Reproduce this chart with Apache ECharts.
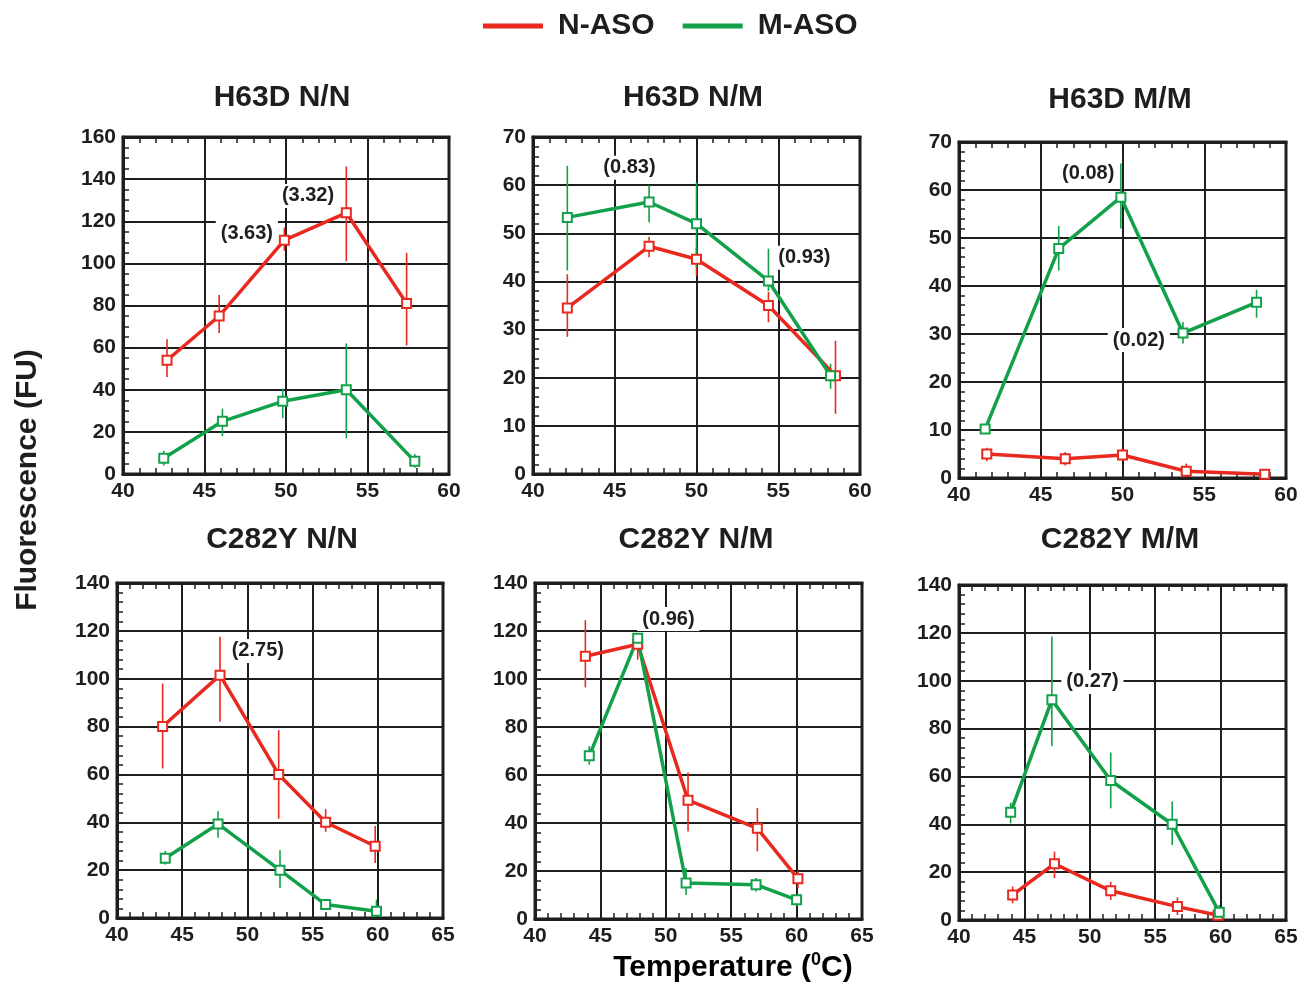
<!DOCTYPE html>
<html>
<head>
<meta charset="utf-8">
<title>Fluorescence vs temperature</title>
<script src="https://cdn.jsdelivr.net/npm/echarts@6.0.0/dist/echarts.min.js"></script>
<style>
  html, body { margin: 0; padding: 0; background: #fff; }
  #chart { width: 1307px; height: 987px; }
</style>
</head>
<body>
<div id="chart"></div>
<script>
// each row: [temperature, mean, error low, error high]
const h63dNN_N = [[42.7, 54, 46, 64], [45.9, 75, 67, 85], [49.9, 111, 106, 117], [53.7, 124, 101, 146], [57.4, 81, 61, 105]]
const h63dNN_M = [[42.5, 7.5, 4, 11], [46.1, 25, 18, 31], [49.8, 34.5, 26.5, 40.5], [53.7, 40, 17, 62], [57.9, 6, 3, 9.5]]
const h63dNM_N = [[42.1, 34.5, 28.5, 41.5], [47.1, 47.3, 45, 49.3], [50.0, 44.6, 41.2, 47.1], [54.4, 35, 31.5, 37.8], [58.5, 20.4, 12.5, 27.7]]
const h63dNM_M = [[42.1, 53.3, 42.3, 64], [47.1, 56.5, 52.3, 60], [50.0, 52, 43, 60.6], [54.4, 40.1, 38, 46.8], [58.2, 20.4, 17.7, 22.9]]
const h63dMM_N = [[41.7, 5, 3.5, 6.3], [46.5, 4, 2.6, 5.4], [50.0, 4.8, 3.7, 6.1], [53.9, 1.4, 0.2, 3], [58.7, 0.8, 0.1, 1.6]]
const h63dMM_M = [[41.6, 10.2, 9.4, 11], [46.1, 47.8, 43.2, 52.5], [49.9, 58.5, 52, 65.5], [53.7, 30.2, 28, 32.5], [58.2, 36.6, 33.4, 39.2]]
const c282yNN_N = [[43.5, 80, 62.5, 98], [47.9, 101.5, 82, 117.5], [52.4, 60, 41.5, 78.5], [56.0, 40, 36, 45.5], [59.8, 30, 23, 38.5]]
const c282yNN_M = [[43.7, 25, 22.3, 28], [47.75, 39.3, 33.5, 44.6], [52.5, 20, 12.5, 28.3], [56.0, 5.6, 3.5, 7.7], [59.9, 2.8, 0.7, 7.7]]
const c282yNM_N = [[43.85, 109.5, 96.5, 124.5], [47.85, 114.5, 108, 119], [51.7, 49.5, 36.5, 61], [57.0, 37.8, 28.2, 46.3], [60.1, 16.8, 12.9, 19.9]]
const c282yNM_M = [[44.15, 68, 64.3, 72], [47.85, 117, 113.6, 119], [51.55, 15, 10, 21.3], [56.9, 14.3, 11.5, 17.1], [60.0, 8, 5.3, 10.1]]
const c282yMM_N = [[44.1, 10.5, 7, 14], [47.3, 23.5, 17.5, 28.6], [51.6, 12.2, 8.4, 16], [56.7, 5.6, 2.1, 9.5], [59.8, 2, 0.8, 3.2]]
const c282yMM_M = [[43.95, 45, 40.4, 49], [47.1, 92, 72.7, 118.5], [51.6, 58.3, 46.7, 70], [56.3, 40, 31.3, 49.5], [59.9, 3.2, 1.1, 6.3]]

// p-value notes: [temperature, fluorescence, text]
const h63dNN_notes = [[47.6, 114.4, '(3.63)'], [51.35, 132, '(3.32)']]
const h63dNM_notes = [[45.9, 63.6, '(0.83)'], [56.6, 44.9, '(0.93)']]
const h63dMM_notes = [[47.9, 63.5, '(0.08)'], [51.0, 28.75, '(0.02)']]
const c282yNN_notes = [[50.8, 111.6, '(2.75)']]
const c282yNM_notes = [[50.2, 125, '(0.96)']]
const c282yMM_notes = [[50.2, 99.5, '(0.27)']]

const panelTitles = ['H63D N/N', 'H63D N/M', 'H63D M/M', 'C282Y N/N', 'C282Y N/M', 'C282Y M/M']
const xMaxes = [60, 60, 60, 65, 65, 65]
const yMaxes = [160, 70, 70, 140, 140, 140]
const ySteps = [20, 10, 10, 20, 20, 20]

const RED = '#e8291f'
const GREEN = '#12a14a'
const INK = '#1e1e1e'
const FONT = '"Liberation Sans", Arial, Helvetica, sans-serif'

const panels = [
  { n: h63dNN_N, m: h63dNN_M, notes: h63dNN_notes, box: [123, 137, 326, 337], title: [282, 98], minor: 4 },
  { n: h63dNM_N, m: h63dNM_M, notes: h63dNM_notes, box: [533, 137, 327, 337], title: [693, 98], minor: 5 },
  { n: h63dMM_N, m: h63dMM_M, notes: h63dMM_notes, box: [959, 142, 327, 336], title: [1120, 100], minor: 5 },
  { n: c282yNN_N, m: c282yNN_M, notes: c282yNN_notes, box: [117, 583, 326, 335], title: [282, 540], minor: 5 },
  { n: c282yNM_N, m: c282yNM_M, notes: c282yNM_notes, box: [535, 583, 327, 336], title: [696, 540], minor: 5 },
  { n: c282yMM_N, m: c282yMM_M, notes: c282yMM_notes, box: [959, 585, 327, 335], title: [1120, 540], minor: 5 },
]

const chart = echarts.init(document.getElementById('chart'))

const labelFont = { color: INK, fontSize: 21, fontWeight: 'bold', fontFamily: FONT }
const tickLine = { color: INK, width: 1.5 }

function errorBar(params, api) {
  const lo = api.coord([api.value(0), api.value(2)])
  const hi = api.coord([api.value(0), api.value(3)])
  return {
    type: 'line',
    shape: { x1: lo[0], y1: lo[1], x2: hi[0], y2: hi[1] },
    style: { stroke: api.visual('color'), lineWidth: 1.6 },
  }
}

const grid = []
const xAxis = []
const yAxis = []
const series = []
const graphic = []

panels.forEach((p, i) => {
  const [left, top, width, height] = p.box
  grid.push({ left, top, width, height, show: true, borderColor: INK, borderWidth: 3, outerBoundsMode: 'none' })

  const xCommon = { type: 'value', gridIndex: i, min: 40, max: xMaxes[i], interval: 5 }
  xAxis.push({
    ...xCommon,
    axisLine: { show: true, onZero: false, lineStyle: { color: INK, width: 3 } },
    axisTick: { show: true, inside: true, length: 6, lineStyle: tickLine },
    minorTick: { show: true, splitNumber: 5, length: 6, lineStyle: tickLine },
    splitLine: { show: true, lineStyle: { color: INK, width: 2 } },
    axisLabel: { ...labelFont, margin: 7 },
  })
  xAxis.push({
    ...xCommon,
    position: 'top',
    axisLine: { show: true, onZero: false, lineStyle: { color: INK, width: 3 } },
    axisTick: { show: true, inside: true, length: 6, lineStyle: tickLine },
    minorTick: { show: true, splitNumber: 5, length: 6, lineStyle: tickLine },
    splitLine: { show: false },
    axisLabel: { show: false },
  })
  yAxis.push({
    type: 'value', gridIndex: i, min: 0, max: yMaxes[i], interval: ySteps[i],
    axisLine: { show: true, onZero: false, lineStyle: { color: INK, width: 3 } },
    axisTick: { show: true, inside: true, length: 6, lineStyle: tickLine },
    minorTick: { show: true, splitNumber: p.minor, length: 6, lineStyle: tickLine },
    splitLine: { show: true, lineStyle: { color: INK, width: 2 } },
    axisLabel: { ...labelFont, margin: 7 },
  })

  const axes = { xAxisIndex: 2 * i, yAxisIndex: i }
  ;[[p.n, RED, 'N-ASO'], [p.m, GREEN, 'M-ASO']].forEach(([rows, color, name]) => {
    series.push({
      type: 'custom', name: name + ' error', ...axes, silent: true, z: 2,
      renderItem: errorBar, encode: { x: 0, y: [2, 3] },
      itemStyle: { color }, data: rows,
    })
  })
  ;[[p.n, RED, 'N-ASO'], [p.m, GREEN, 'M-ASO']].forEach(([rows, color, name]) => {
    series.push({
      type: 'line', name, ...axes, z: 3, silent: true,
      symbol: 'emptyRect', symbolSize: 9,
      lineStyle: { color, width: 3.5 },
      itemStyle: { color, borderWidth: 1.6 },
      data: rows.map((r) => [r[0], r[1]]),
    })
  })
  series.push({
    type: 'scatter', ...axes, z: 6, silent: true,
    symbolSize: 1, itemStyle: { color: INK, opacity: 1 },
    label: {
      show: true, position: 'inside', formatter: '{b}',
      ...labelFont, fontSize: 20, backgroundColor: '#fff', padding: [2, 5],
      textBorderWidth: 0, textBorderColor: 'transparent', opacity: 1,
    },
    data: p.notes.map((n) => ({ name: n[2], value: [n[0], n[1]] })),
  })

  graphic.push({
    type: 'text', x: p.title[0], y: p.title[1],
    style: {
      text: panelTitles[i], font: `bold 30px ${FONT}`, fill: INK,
      align: 'center', verticalAlign: 'middle',
    },
  })
})

graphic.push({
  type: 'text', x: 28, y: 480, rotation: Math.PI / 2,
  style: {
    text: 'Fluorescence (FU)', font: `bold 30px ${FONT}`, fill: INK,
    align: 'center', verticalAlign: 'middle',
  },
})
graphic.push({
  type: 'text', x: 733, y: 968,
  style: {
    text: '{a|Temperature (}{s|0}{a|C)}',
    align: 'center', verticalAlign: 'middle',
    rich: {
      a: { fontSize: 30, fontWeight: 'bold', fontFamily: FONT, color: INK, lineHeight: 34 },
      s: { fontSize: 18, fontWeight: 'bold', fontFamily: FONT, color: INK, verticalAlign: 'top', lineHeight: 34, padding: [0, 0, 10, 0] },
    },
  },
})

chart.setOption({
  animation: false,
  backgroundColor: '#fff',
  legend: {
    data: ['N-ASO', 'M-ASO'], left: 478, top: 6, icon: 'rect',
    itemWidth: 60, itemHeight: 5, itemGap: 28, selectedMode: false,
    textStyle: { fontSize: 30, fontWeight: 'bold', color: INK, fontFamily: FONT, padding: [0, 0, 0, 10] },
  },
  grid,
  xAxis,
  yAxis,
  series,
  graphic,
})
</script>
</body>
</html>
